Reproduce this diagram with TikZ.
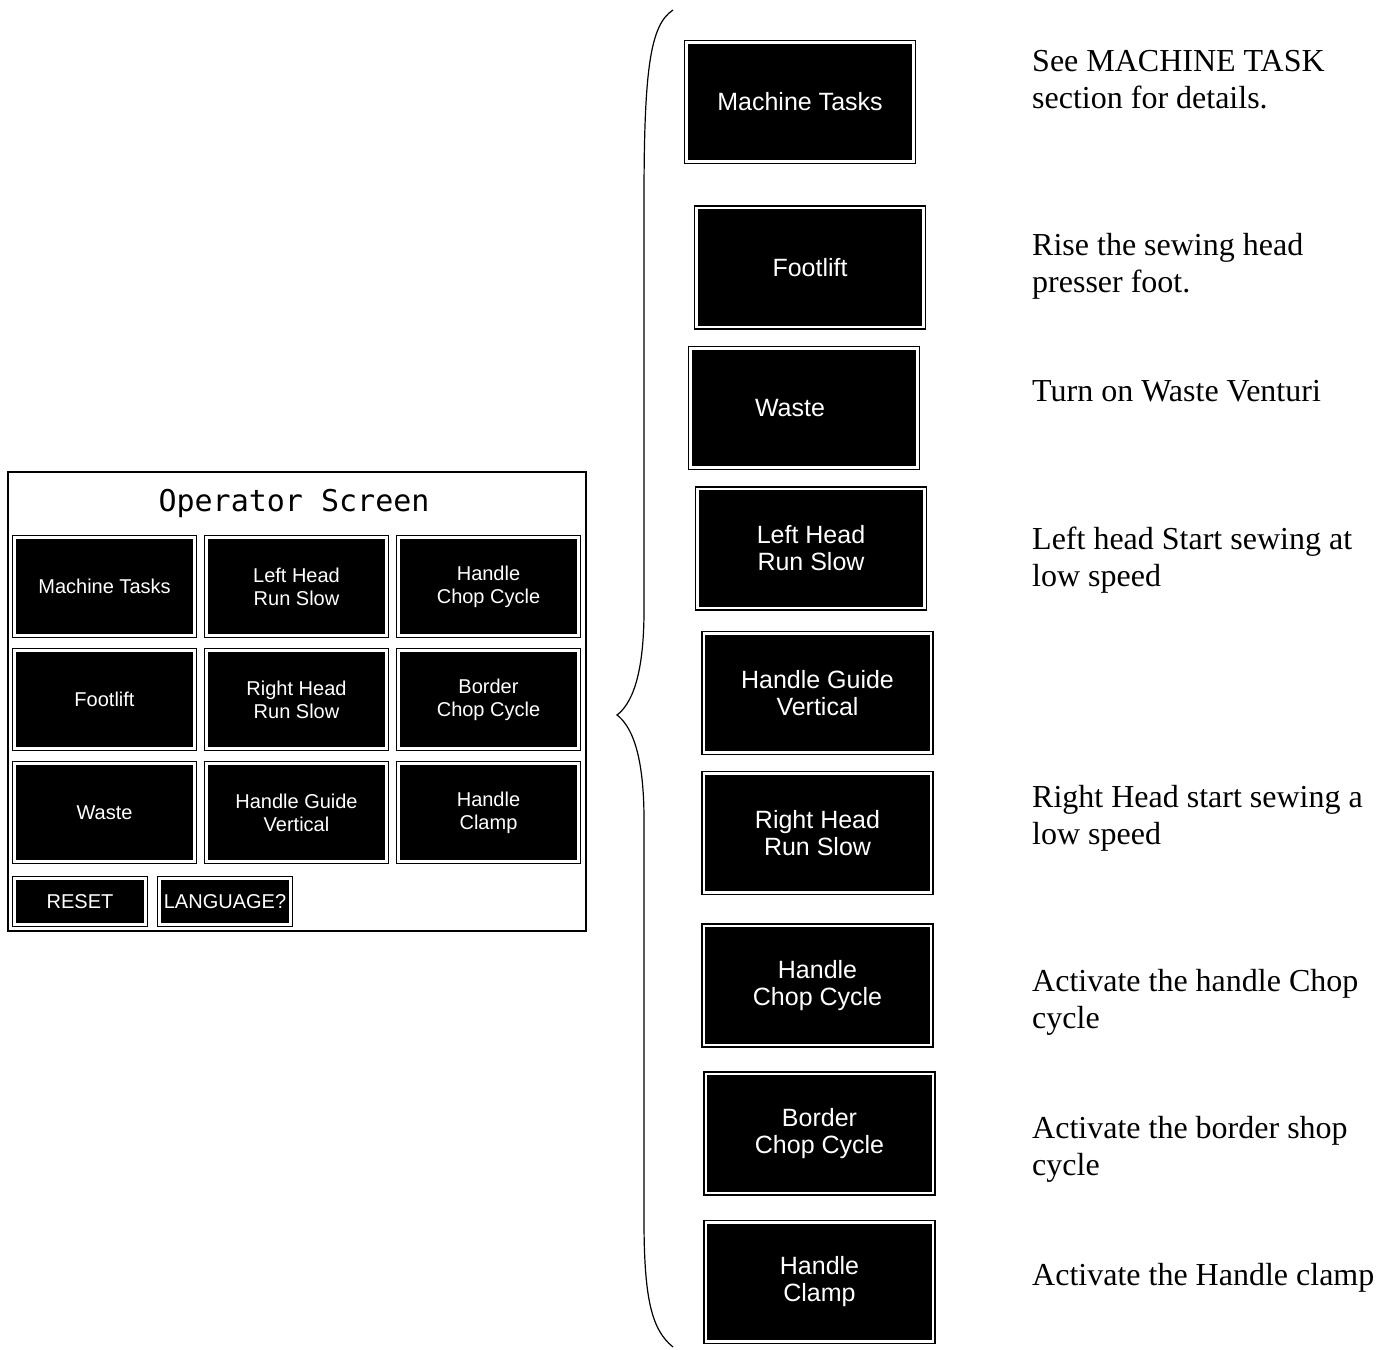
\documentclass[tikz,border=0pt]{standalone}
\usepackage{fontspec}
\setmainfont{Liberation Serif}
\newfontfamily\btnfont{Liberation Sans}
\newfontfamily\titlefont{DejaVu Sans Mono}

\begin{document}
\begin{tikzpicture}[x=1pt,y=-1pt]
        \tikzstyle{btn}=[draw=black,line width=1.4pt,double=white,double distance=2.4pt,fill=black,text=white,align=center,inner sep=0pt,minimum width=180,minimum height=98,font=\btnfont\fontsize{20}{23}\selectfont]
        \tikzstyle{bigbtn}=[btn,minimum width=227,minimum height=119,font=\btnfont\fontsize{25}{27}\selectfont]
        \tikzstyle{note}=[anchor=north west,align=left,inner sep=0pt,font=\fontsize{32}{37}\selectfont]
        \useasboundingbox (0,0) rectangle (1388,1349);

        \node[draw=black,line width=1.2pt,minimum width=578,minimum height=459,inner sep=0pt] (screen) at (297,701.5) {};
        \node[font=\titlefont\fontsize{30}{32}\selectfont] (title) at (294,503) {Operator Screen};

        \node[btn] (g1) at (104.5,586.5) {Machine Tasks};
        \node[btn] (g2) at (296.5,586.5) {Left Head\\Run Slow};
        \node[btn] (g3) at (488.5,586.5) {Handle\\Chop Cycle};
        \node[btn] (g4) at (104.5,699.5) {Footlift};
        \node[btn] (g5) at (296.5,699.5) {Right Head\\Run Slow};
        \node[btn] (g6) at (488.5,699.5) {Border\\Chop Cycle};
        \node[btn] (g7) at (104.5,812.5) {Waste};
        \node[btn] (g8) at (296.5,812.5) {Handle Guide\\Vertical};
        \node[btn] (g9) at (488.5,812.5) {Handle\\Clamp};
        \node[btn,minimum width=131,minimum height=46] (reset) at (80,901.5) {RESET};
        \node[btn,minimum width=131,minimum height=46] (lang) at (225,901.5) {LANGUAGE?};

        \draw[line width=1.2pt] (673,10) .. controls (650,25) and (644,70) .. (644,200) -- (644,610)
            .. controls (644,680) and (630,705) .. (617,715)
            .. controls (630,725) and (644,750) .. (644,820) -- (644,1220)
            .. controls (644,1300) and (652,1330) .. (673,1347);

        \node[bigbtn] (r1) at (800,102) {Machine Tasks};
        \node[bigbtn] (r2) at (810,267.5) {Footlift};
        \node[bigbtn] (r3) at (804,408) {\hspace*{-28pt}Waste};
        \node[bigbtn] (r4) at (811,548.5) {Left Head\\Run Slow};
        \node[bigbtn] (r5) at (817.5,693) {Handle Guide\\Vertical};
        \node[bigbtn] (r6) at (817.5,833) {Right Head\\Run Slow};
        \node[bigbtn] (r7) at (817.5,985.5) {Handle\\Chop Cycle};
        \node[bigbtn] (r8) at (819.5,1133.5) {Border\\Chop Cycle};
        \node[bigbtn] (r9) at (819.5,1282) {Handle\\Clamp};

        \node[note] (d1) at (1032,50) {See MACHINE TASK\\section for details.};
        \node[note] (d2) at (1032,233) {Rise the sewing head\\presser foot.};
        \node[note] (d3) at (1032,380) {Turn on Waste Venturi};
        \node[note] (d4) at (1032,527) {Left head Start sewing at\\low speed};
        \node[note] (d5) at (1032,785) {Right Head start sewing a\\low speed};
        \node[note] (d6) at (1032,969) {Activate the handle Chop\\cycle};
        \node[note] (d7) at (1032,1116) {Activate the border shop\\cycle};
        \node[note] (d8) at (1032,1263) {Activate the Handle clamp};
    \end{tikzpicture}
\end{document}
